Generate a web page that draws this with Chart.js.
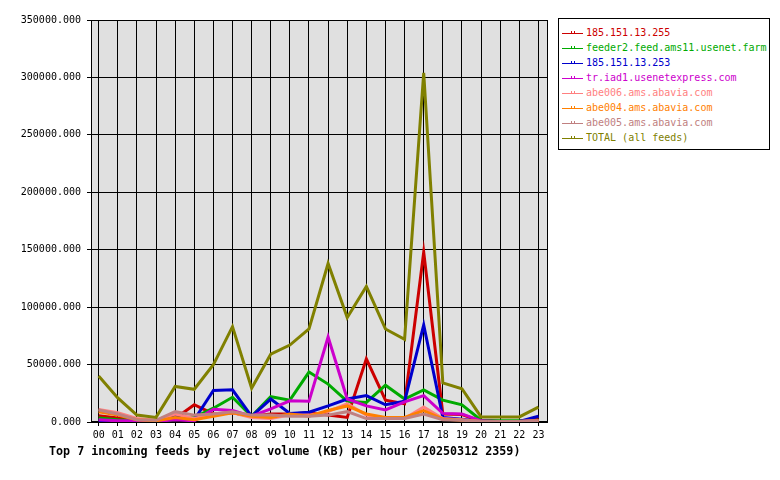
<!DOCTYPE html>
<html>
<head>
<meta charset="utf-8">
<script src="https://cdn.jsdelivr.net/npm/chart.js@4/dist/chart.umd.min.js"></script>
<style>
  body { margin: 0; background: #fff; }
  #wrap { position: relative; width: 780px; height: 480px; }
  #legend {
    position: absolute; left: 558px; top: 18px; width: 210px; height: 130px;
    border: 1px solid #000; background: #fff;
    font: 10px "DejaVu Sans Mono", monospace;
  }
  .row { position: absolute; left: 3px; width: 205px; height: 14px; line-height: 14px; white-space: nowrap; }
  .sample { position: absolute; left: 0; top: 7px; width: 21px; height: 1px; }
  .mark { position: absolute; left: 9px; top: -2px; width: 4px; height: 2px; }
  .mark i { position: absolute; left: 1px; top: 0; width: 2px; height: 2px; background: #fff; }
  .label { position: absolute; left: 24px; top: 0; }
  #title {
    position: absolute; left: 49px; top: 444px;
    font: bold 11.7px "DejaVu Sans Mono", monospace; color: #000; white-space: nowrap;
  }
</style>
</head>
<body>
<div id="wrap">
  <canvas id="feedChart" width="780" height="480"></canvas>
  <div id="legend"></div>
  <div id="title">Top 7 incoming feeds by reject volume (KB) per hour (20250312 2359)</div>
</div>
<script>
const hours = ["00", "01", "02", "03", "04", "05", "06", "07", "08", "09", "10", "11",
               "12", "13", "14", "15", "16", "17", "18", "19", "20", "21", "22", "23"];
const yTicks = [0, 50000, 100000, 150000, 200000, 250000, 300000, 350000];

const feedNames = ["185.151.13.255", "feeder2.feed.ams11.usenet.farm", "185.151.13.253",
                   "tr.iad1.usenetexpress.com", "abe006.ams.abavia.com", "abe004.ams.abavia.com",
                   "abe005.ams.abavia.com", "TOTAL (all feeds)"];
const feedColors = ["#cc0000", "#00aa00", "#0000cc", "#cc00cc", "#ff8080", "#ff8000", "#c08080", "#808000"];

const red255 = [5500, 3500, 1500, 1000, 3000, 15000, 7000, 8000, 5000, 7000, 7000, 8000,
                6000, 4000, 55000, 19000, 16000, 148000, 7000, 6500, 500, 500, 500, 3000];
const feeder2 = [3500, 2000, 1500, 1000, 2000, 4000, 12000, 21500, 5000, 22000, 19000, 43500,
                 33000, 18000, 17000, 32000, 20000, 28000, 19000, 15000, 1500, 1000, 1000, 1500];
const blue253 = [1000, 500, 500, 500, 6000, 2000, 27500, 28000, 5000, 20000, 7500, 8500,
                 14000, 20000, 23000, 15000, 18000, 84500, 4000, 2500, 500, 500, 500, 5000];
const iad1 = [2000, 1000, 1000, 500, 2000, 1000, 11000, 10000, 5000, 11500, 18500, 18000,
              74000, 20000, 14000, 10500, 17500, 23000, 7500, 7000, 1000, 500, 500, 1000];
const abe006 = [11000, 8000, 3000, 1500, 7000, 3000, 7000, 8000, 4000, 3000, 6000, 6000,
                9000, 16000, 6000, 3000, 3000, 13000, 3000, 2000, 500, 500, 500, 1000];
const abe004 = [9000, 6000, 2000, 1000, 4000, 2000, 5000, 8000, 5000, 4000, 7000, 5000,
                10000, 14000, 7000, 4000, 4000, 10000, 2500, 1500, 500, 500, 500, 1000];
const abe005 = [10500, 7000, 2000, 1500, 9000, 6000, 7000, 9000, 6000, 6000, 5000, 5000,
                6000, 9000, 3000, 3000, 3000, 7000, 2000, 1500, 500, 500, 500, 1000];
const total = [40000, 21000, 6000, 4000, 31000, 28500, 50000, 83000, 29500, 59000, 67000, 81000,
               138000, 91000, 118000, 81000, 72000, 304000, 34000, 29000, 4400, 4400, 4400, 13000];

const feedValues = [red255, feeder2, blue253, iad1, abe006, abe004, abe005, total];

// gray plot area and black frame
const plotFrame = {
    id: 'plotFrame',
    beforeDraw(chart) {
        const a = chart.chartArea, ctx = chart.ctx;
        ctx.save();
        ctx.fillStyle = '#e0e0e0';
        ctx.fillRect(a.left, a.top, a.right - a.left, a.bottom - a.top);
        ctx.restore();
    },
    beforeDatasetsDraw(chart) {
        const a = chart.chartArea, ctx = chart.ctx;
        ctx.save();
        ctx.strokeStyle = '#000';
        ctx.lineWidth = 1;
        ctx.strokeRect(Math.round(a.left) + 0.5, Math.round(a.top) + 0.5,
                       Math.round(a.right - a.left) - 1, Math.round(a.bottom - a.top) - 1);
        ctx.restore();
    }
};

const tickFont = { family: "'DejaVu Sans Mono', monospace", size: 10 };

const ctx = document.getElementById("feedChart").getContext("2d");
new Chart(ctx, {
    type: "line",
    data: {
        datasets: feedNames.map((name, i) => ({
            label: name,
            data: feedValues[i].map((v, h) => ({ x: h, y: v })),
            borderColor: feedColors[i],
            backgroundColor: feedColors[i],
            borderWidth: 3,
            pointRadius: 0,
            tension: 0,
            order: feedNames.length - i
        }))
    },
    options: {
        responsive: false,
        animation: false,
        layout: { padding: { left: 0, top: 20, right: 232, bottom: 36 } },
        plugins: {
            legend: { display: false },
            tooltip: { enabled: false }
        },
        scales: {
            x: {
                type: 'linear',
                min: -0.4,
                max: 23.5,
                afterFit: s => { s.height = 22; },
                grid: { color: '#000', lineWidth: 1, tickLength: 4 },
                border: { display: false },
                ticks: {
                    stepSize: 1,
                    includeBounds: false,
                    autoSkip: false,
                    maxRotation: 0,
                    color: '#000',
                    font: tickFont,
                    padding: 3,
                    callback: v => hours[v] ?? ''
                }
            },
            y: {
                min: yTicks[0],
                max: yTicks[yTicks.length - 1],
                afterFit: s => { s.width = 91; },
                afterBuildTicks: s => { s.ticks = yTicks.map(v => ({ value: v })); },
                grid: { color: '#000', lineWidth: 1, tickLength: 4 },
                border: { display: false },
                ticks: {
                    color: '#000',
                    font: tickFont,
                    padding: 6,
                    callback: v => Number(v).toFixed(3)
                }
            }
        }
    },
    plugins: [plotFrame]
});

// legend box
const legendEl = document.getElementById("legend");
feedNames.forEach((name, i) => {
    const row = document.createElement("div");
    row.className = "row";
    row.style.top = (7 + i * 15) + "px";
    row.style.color = feedColors[i];
    const sample = document.createElement("div");
    sample.className = "sample";
    sample.style.backgroundColor = feedColors[i];
    const mark = document.createElement("div");
    mark.className = "mark";
    mark.style.backgroundColor = feedColors[i];
    mark.appendChild(document.createElement("i"));
    sample.appendChild(mark);
    const label = document.createElement("span");
    label.className = "label";
    label.textContent = name;
    row.appendChild(sample);
    row.appendChild(label);
    legendEl.appendChild(row);
});
</script>
</body>
</html>
